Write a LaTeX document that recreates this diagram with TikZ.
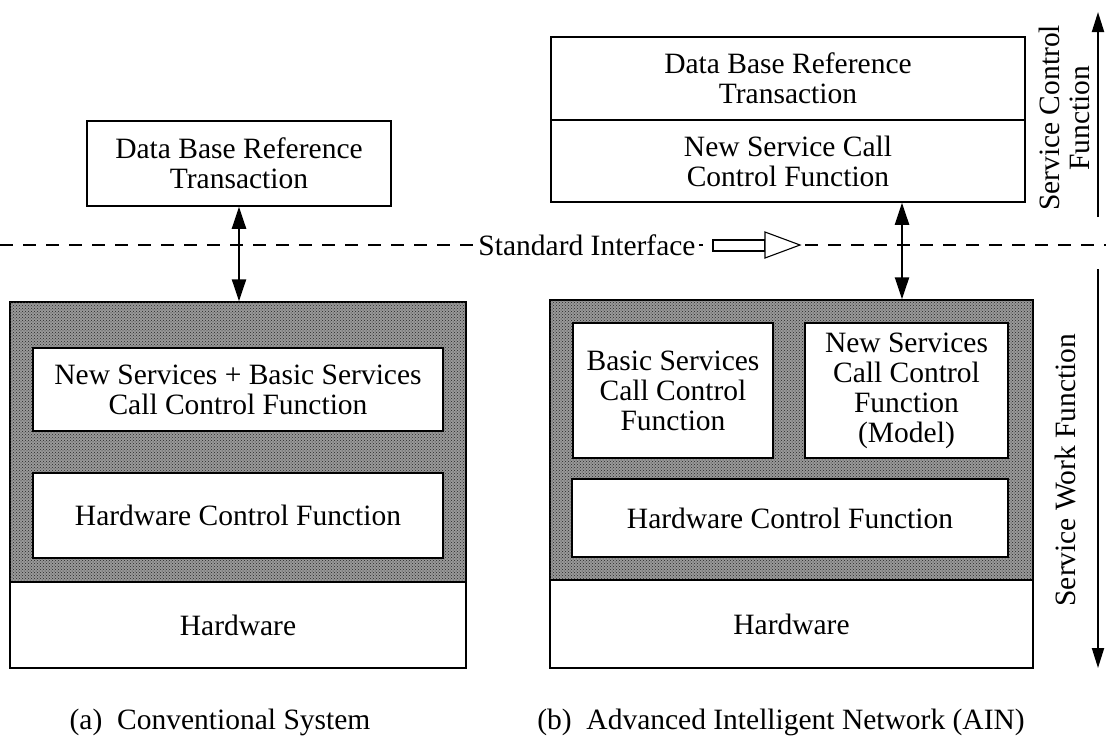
\documentclass[tikz,border=0pt]{standalone}
\usepackage{fontspec}
\setmainfont{Liberation Serif}
\usetikzlibrary{arrows.meta,patterns}
\begin{document}
\begin{tikzpicture}[x=1pt,y=-1pt,
  every node/.style={font=\fontsize{29.5}{30}\selectfont, inner sep=0pt, align=center},
  plainbox/.style={draw, line width=1.5pt, fill=white},
  shadebox/.style={draw, line width=1.5pt, fill=black!40,
    postaction={pattern=crosshatch dots, pattern color=black!85}},
  linkarrow/.style={line width=2.4pt, {Triangle[length=22pt,width=14pt]}-{Triangle[length=22pt,width=14pt]}},
  sidearrow/.style={line width=2pt, -{Triangle[length=20pt,width=12pt]}},
  ifaceline/.style={line width=1.2pt, dash pattern=on 13pt off 10pt},
  hollow/.style={line width=1.1pt, fill=white}
]
\useasboundingbox (0,0) rectangle (1106,745);

% interface line across the whole figure
\coordinate (ifL) at (0,245);
\coordinate (ifR) at (1106,245);
\draw[ifaceline] (ifL) -- (ifR);

% ---------- (a) conventional system ----------
\node[plainbox, minimum width=304pt, minimum height=85pt] (dbL) at (239,163.5)
  {Data Base Reference\\Transaction};
\node[shadebox, minimum width=456pt, minimum height=280pt] (shL) at (238,442) {};
\node[plainbox, minimum width=410pt, minimum height=83pt] (nsbs) at (238,389.5)
  {New Services + Basic Services\\Call Control Function};
\node[plainbox, minimum width=410pt, minimum height=85pt] (hcfL) at (238,515.5)
  {Hardware Control Function};
\node[plainbox, minimum width=456pt, minimum height=86pt] (hwL) at (238,625)
  {Hardware};
\draw[linkarrow] (dbL.south) -- (dbL.south |- shL.north);

% ---------- (b) advanced intelligent network ----------
\node[plainbox, minimum width=474pt, minimum height=83pt] (dbR) at (788,78.5)
  {Data Base Reference\\Transaction};
\node[plainbox, minimum width=474pt, minimum height=82pt] (nscR) at (788,161)
  {New Service Call\\Control Function};
\node[shadebox, minimum width=483pt, minimum height=280pt] (shR) at (791.5,440) {};
\node[plainbox, minimum width=200pt, minimum height=135pt] (basic) at (673,390.5)
  {Basic Services\\Call Control\\Function};
\node[plainbox, minimum width=203pt, minimum height=135pt] (newsvc) at (906.5,390.5)
  {New Services\\Call Control\\Function\\(Model)};
\node[plainbox, minimum width=436pt, minimum height=78pt] (hcfR) at (790,518)
  {Hardware Control Function};
\node[plainbox, minimum width=483pt, minimum height=88pt] (hwR) at (791.5,624)
  {Hardware};
\draw[linkarrow] ([xshift=114pt]nscR.south) -- ([xshift=114pt]nscR.south |- shR.north);

% interface label with its hollow arrow
\node[fill=white, inner xsep=3pt, inner ysep=2pt] (std) at (587,245) {Standard Interface};
\coordinate (hbA) at (713,240);
\coordinate (hbB) at (765,251);
\draw[hollow] (hbA) rectangle (hbB);
\coordinate (htA) at (765,232);
\coordinate (htTip) at (800,245);
\coordinate (htB) at (765,258);
\draw[hollow] (htA) -- (htTip) -- (htB) -- cycle;

% functional ranges on the right
\coordinate (scBot) at (1098,217);
\coordinate (scTop) at (1098,12);
\coordinate (swTop) at (1098,269);
\coordinate (swBot) at (1098,668);
\draw[sidearrow] (scBot) -- (scTop);
\draw[sidearrow] (swTop) -- (swBot);
\node[rotate=90] (scf) at (1064,118) {Service Control\\Function};
\node[rotate=90] (swf) at (1065,470) {Service Work Function};

% captions
\node (capA) at (220,722) {(a)\ \ Conventional System};
\node (capB) at (781,722) {(b)\ \ Advanced Intelligent Network (AIN)};
\end{tikzpicture}
\end{document}
